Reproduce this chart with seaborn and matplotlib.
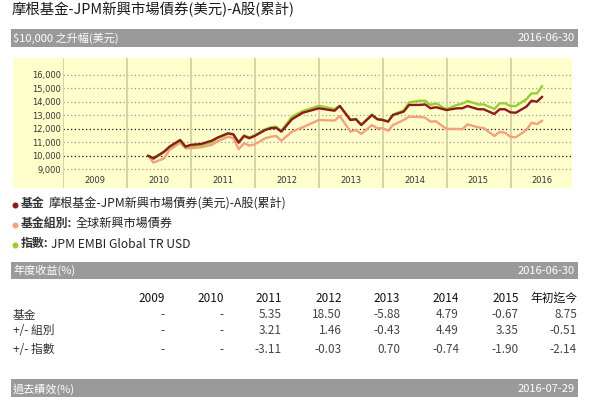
import pandas as pd
import matplotlib
matplotlib.use("Agg")
import matplotlib.pyplot as plt
import matplotlib.patches as mpatches
from matplotlib.lines import Line2D
from matplotlib.ticker import FuncFormatter
import seaborn as sns

# =========================
# Data
# =========================
months = ["2010-04", "2010-05", "2010-07", "2010-08", "2010-10", "2010-11", "2010-12",
          "2011-02", "2011-04", "2011-05", "2011-07", "2011-08", "2011-09", "2011-10",
          "2011-11", "2011-12", "2012-02", "2012-03", "2012-04", "2012-05", "2012-07",
          "2012-09", "2012-12", "2013-03", "2013-04", "2013-06", "2013-07", "2013-08",
          "2013-10", "2013-11", "2013-12", "2014-01", "2014-02", "2014-04", "2014-05",
          "2014-07", "2014-08", "2014-09", "2014-10", "2014-12", "2015-02", "2015-03",
          "2015-04", "2015-06", "2015-07", "2015-09", "2015-10", "2015-11", "2015-12",
          "2016-01", "2016-03", "2016-04", "2016-05", "2016-06"]

fund = [10000, 9800, 10300, 10670, 11160, 10670, 10800,
        10870, 11110, 11330, 11660, 11580, 10960, 11460,
        11290, 11460, 11900, 12030, 12070, 11780, 12700,
        13180, 13510, 13330, 13680, 12640, 12700, 12270,
        13010, 12700, 12640, 12520, 13010, 13260, 13760,
        13760, 13800, 13510, 13590, 13380, 13510, 13510,
        13680, 13440, 13440, 13090, 13440, 13440, 13210,
        13180, 13630, 14070, 14000, 14370]

group = [10000, 9480, 9800, 10420, 10960, 10550, 10550,
         10620, 10800, 11050, 11400, 11300, 10470, 10920,
         10740, 10840, 11290, 11400, 11460, 11110, 11780,
         12100, 12640, 12600, 12940, 11780, 11900, 11610,
         12270, 12030, 12030, 11850, 12270, 12640, 12890,
         12870, 12810, 12520, 12550, 11980, 11980, 11960,
         12320, 12100, 12050, 11460, 11760, 11700, 11400,
         11360, 11900, 12440, 12340, 12590]

index = [10000, 9750, 10250, 10600, 11100, 10620, 10700,
         10780, 11000, 11280, 11600, 11560, 11000, 11500,
         11350, 11520, 11950, 12100, 12150, 11850, 12890,
         13300, 13700, 13450, 13700, 12660, 12720, 12300,
         13050, 12720, 12660, 12550, 13050, 13350, 13950,
         14070, 14070, 13760, 13880, 13440, 13760, 13850,
         14050, 13800, 13800, 13460, 13880, 13880, 13680,
         13680, 14180, 14620, 14620, 15160]

series_names = ["基金組別", "指數", "基金"]
series_colors = ["#F2A07E", "#9ACD32", "#8E1B1B"]

years = [2009, 2010, 2011, 2012, 2013, 2014, 2015, 2016]
col_labels = ["2009", "2010", "2011", "2012", "2013", "2014", "2015", "年初迄今"]
row_labels = ["基金", "+/- 組別", "+/- 指數"]
ret_fund = ["-", "-", "5.35", "18.50", "-5.88", "4.79", "-0.67", "8.75"]
ret_vs_group = ["-", "-", "3.21", "1.46", "-0.43", "4.49", "3.35", "-0.51"]
ret_vs_index = ["-", "-", "-3.11", "-0.03", "0.70", "-0.74", "-1.90", "-2.14"]

title = "摩根基金-JPM新興市場債券(美元)-A股(累計)"

# =========================
# Long-form frame for seaborn
# =========================
dates = pd.to_datetime(months) + pd.offsets.MonthEnd(0)
df = pd.DataFrame({"date": dates, "基金": fund, "基金組別": group, "指數": index})
df = df.melt(id_vars="date", var_name="series", value_name="value")

sns.set_theme(style="white")
plt.rcParams["font.family"] = ["Noto Sans CJK TC", "DejaVu Sans"]

W, H = 610, 397


def fx(x):
    return x / W


def fy(y):
    return 1 - y / H


fig = plt.figure(figsize=(W / 100, H / 100), dpi=100)
fig.patch.set_facecolor("white")


def gray_bar(y0, y1, left, right):
    fig.add_artist(mpatches.Rectangle((fx(11), fy(y1)), fx(578) - fx(11), (y1 - y0) / H,
                                      transform=fig.transFigure, color="#9a9a9a", lw=0, zorder=0))
    yc = (y0 + y1) / 2
    fig.text(fx(13), fy(yc), left, color="white", fontsize=8, va="center", ha="left")
    fig.text(fx(575), fy(yc), right, color="white", fontsize=8, va="center", ha="right")


# title and header bar
fig.text(fx(12), fy(10), title, fontsize=10.4, va="center", ha="left", color="#1a1a1a")
gray_bar(29, 47, "$10,000 之升幅(美元)", "2016-06-30")

# yellow chart background
fig.add_artist(mpatches.Rectangle((fx(13), fy(188)), fx(572) - fx(13), (188 - 58) / H,
                                  transform=fig.transFigure, color="#FFFFCC", lw=0, zorder=0))

# =========================
# Chart
# =========================
ax = fig.add_axes([fx(63.3), fy(188), (572 - 63.3) / W, (188 - 58) / H])
ax.set_facecolor("none")
for s in ax.spines.values():
    s.set_visible(False)

sns.lineplot(data=df, x="date", y="value", hue="series", hue_order=series_names,
             palette=series_colors, linewidth=1.7, legend=False, ax=ax)

ax.set_xlim(pd.Timestamp("2009-01-01"), pd.Timestamp("2016-12-17"))
ax.set_ylim(7600, 17240)
ax.set_xlabel("")
ax.set_ylabel("")
ax.set_xticks([])

yticks = list(range(9000, 16001, 1000))
ax.set_yticks(yticks)
ax.yaxis.set_major_formatter(FuncFormatter(lambda v, p: f"{int(v):,}"))
ax.tick_params(axis="y", length=0, pad=1.5, labelsize=6, labelcolor="#333333",
               labelfontfamily="DejaVu Sans")

for v in yticks:
    dark = v in (10000, 12000)
    ax.axhline(v, color="#111111" if dark else "#9a9a9a", lw=0.9,
               ls=(0, (1, 2)), zorder=1)

for y in years:
    ax.axvline(pd.Timestamp(f"{y}-01-01"), color="#d3d1a3", lw=1.3, zorder=1)
    ax.text(pd.Timestamp(f"{y}-07-01"), 8130, str(y), ha="center", va="center",
            fontsize=6, color="#333333", family="DejaVu Sans")

# =========================
# Legend
# =========================
legend_rows = [
    (204, series_colors[2], "基金", 20.5, "摩根基金-JPM新興市場債券(美元)-A股(累計)", 49),
    (223.5, series_colors[0], "基金組別:", 20.5, "全球新興市場債券", 76),
    (244, series_colors[1], "指數:", 20.5, "JPM EMBI Global TR USD", 51),
]
for y, c, bold, xb, rest, xr in legend_rows:
    fig.add_artist(Line2D([fx(15)], [fy(y + 1)], marker="o", markersize=3.3, color=c,
                          lw=0, transform=fig.transFigure))
    fig.text(fx(xb), fy(y), bold, fontsize=8.6, fontweight="semibold", va="center", color="#333333")
    fig.text(fx(xr), fy(y), rest, fontsize=8.7, va="center", color="#222222")

# =========================
# Annual returns table
# =========================
gray_bar(262, 279, "年度收益(%)", "2016-06-30")

col_right = [164.6, 223.7, 282, 341.6, 400, 459, 518.7, 577]
for x, lab in zip(col_right, col_labels):
    fig.text(fx(x), fy(298.3), lab, fontsize=8.5, ha="right", va="center", color="#111111")

row_y = [314.3, 331, 349.3]
for y, lab, vals in zip(row_y, row_labels, [ret_fund, ret_vs_group, ret_vs_index]):
    fig.text(fx(13), fy(y), lab, fontsize=8.5, ha="left", va="center", color="#333333")
    for x, v in zip(col_right, vals):
        fig.text(fx(x), fy(y), v, fontsize=8.5, ha="right", va="center", color="#444444")

gray_bar(379, 400, "過去績效(%)", "2016-07-29")

fig.savefig("out.png", dpi=100)
